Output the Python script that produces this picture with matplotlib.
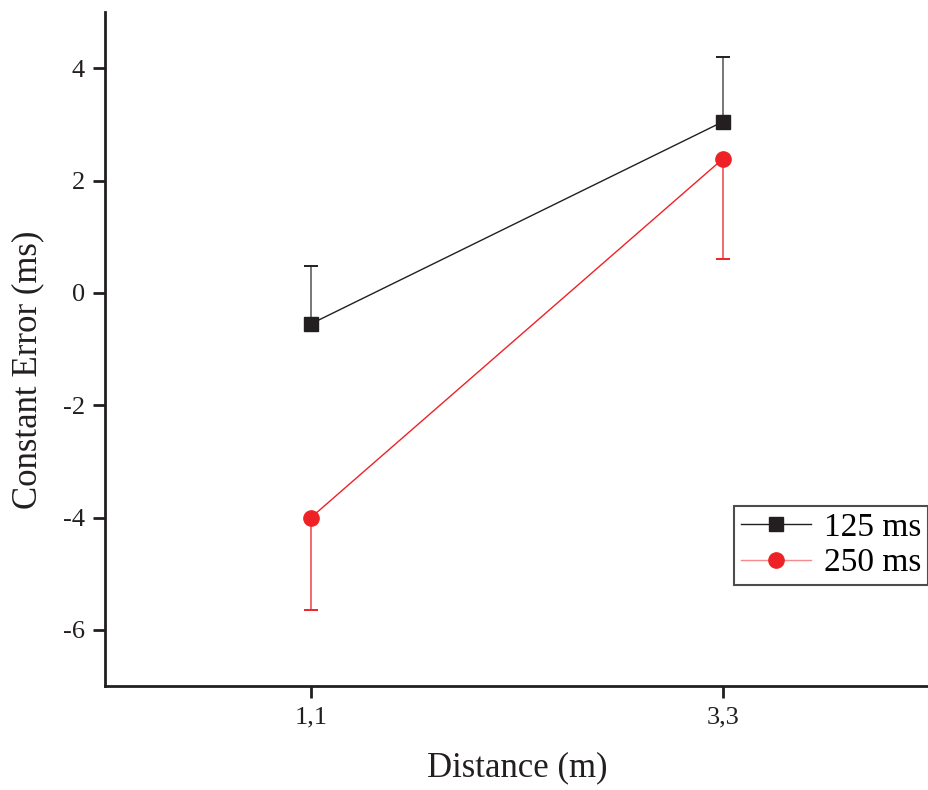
import matplotlib
matplotlib.use("Agg")
from matplotlib import pyplot as plt
from matplotlib.lines import Line2D

plt.rcParams['font.family'] = ['Liberation Serif', 'DejaVu Serif']

# data
distances = ["1,1", "3,3"]
x_pos = [1, 2]
err_125 = [-0.55, 3.05]
err_125_up = [1.03, 1.15]
err_250 = [-4.0, 2.39]
err_250_down = [1.64, 1.78]
y_ticks = [-6, -4, -2, 0, 2, 4]

black = '#231f20'
red = '#ee2226'

fig = plt.figure(figsize=(9.29, 7.9), dpi=100)
ax = fig.add_axes([0.113, 0.1316, 0.887, 0.853])

# one-sided error bars: up for 125 ms, down for 250 ms
tops = [v + e for v, e in zip(err_125, err_125_up)]
ax.vlines(x_pos, err_125, tops, color='#777777', linewidth=1.4, zorder=2)
ax.plot(x_pos, tops, linestyle='none', marker='_', markersize=10.5, markeredgewidth=1.4,
        color=black, zorder=2)
bots = [v - e for v, e in zip(err_250, err_250_down)]
ax.vlines(x_pos, bots, err_250, color='#f26b6e', linewidth=1.4, zorder=2)
ax.plot(x_pos, bots, linestyle='none', marker='_', markersize=10.5, markeredgewidth=1.4,
        color=red, zorder=2)

ax.plot(x_pos, err_125, color=black, marker='s', markersize=9.5, linewidth=1, zorder=3)
ax.plot(x_pos, err_250, color=red, marker='o', markersize=11, linewidth=1, zorder=3)

ax.set_xlim(0.5, 2.5)
ax.set_ylim(-7, 5)
ax.set_xticks(x_pos)
ax.set_xticklabels(distances)
ax.set_yticks(y_ticks)
ax.set_yticklabels([str(t) for t in y_ticks])
ax.spines['top'].set_visible(False)
ax.spines['right'].set_visible(False)
for s in ['left', 'bottom']:
    ax.spines[s].set_linewidth(2)
    ax.spines[s].set_color(black)
ax.tick_params(direction='out', length=8.5, width=2, labelsize=19, colors=black, pad=6)

ax.set_xlabel('Distance (m)', fontsize=25, color=black, labelpad=17)
ax.set_ylabel('Constant Error (ms)', fontsize=25, color=black)
ax.yaxis.set_label_coords(-0.074, 0.47)

handles = [
    Line2D([], [], color=black, marker='s', markersize=9.5, linewidth=1),
    Line2D([], [], color='#f58a8c', marker='o', markersize=11, linewidth=1,
           markerfacecolor=red, markeredgecolor=red),
]
leg = ax.legend(handles, ['125 ms', '250 ms'], loc='lower right',
                bbox_to_anchor=(0.999, 205 / 790), bbox_transform=fig.transFigure,
                fontsize=24, frameon=True, fancybox=False, edgecolor=black,
                handlelength=2.1, borderpad=0.2, labelspacing=0.15, handletextpad=0.4,
                borderaxespad=0)
leg.get_frame().set_linewidth(1.5)

fig.savefig('out.png', dpi=100)
